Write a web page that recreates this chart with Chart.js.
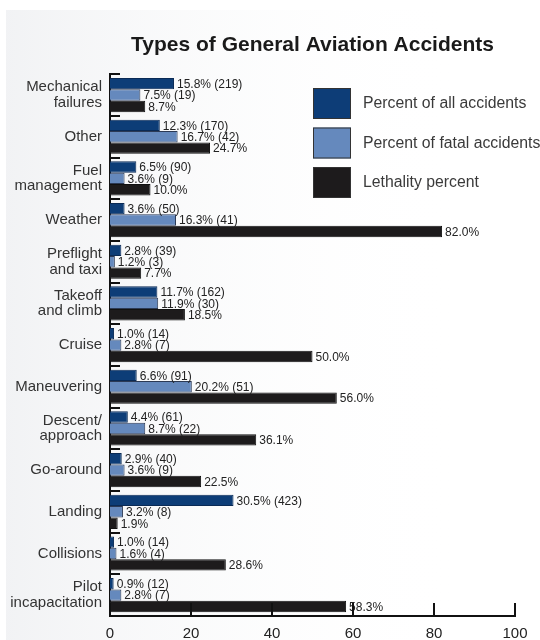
<!DOCTYPE html>
<html>
<head>
<meta charset="utf-8">
<script src="https://cdn.jsdelivr.net/npm/chart.js@4/dist/chart.umd.min.js"></script>
<style>
    html, body { margin: 0; padding: 0; background: #fff; }
    #accidentChart { display: block; }
</style>
</head>
<body>
<canvas id="accidentChart" width="540" height="640"></canvas>
<script>
// カテゴリ
const categories = [
    ['Mechanical', 'failures'],
    'Other',
    ['Fuel', 'management'],
    'Weather',
    ['Preflight', 'and taxi'],
    ['Takeoff', 'and climb'],
    'Cruise',
    'Maneuvering',
    ['Descent/', 'approach'],
    'Go-around',
    'Landing',
    'Collisions',
    ['Pilot', 'incapacitation']
];
// 全事故に対する割合
const allPercent = [15.8, 12.3, 6.5, 3.6, 2.8, 11.7, 1.0, 6.6, 4.4, 2.9, 30.5, 1.0, 0.9];
const allCount = [219, 170, 90, 50, 39, 162, 14, 91, 61, 40, 423, 14, 12];
// 死亡事故に対する割合
const fatalPercent = [7.5, 16.7, 3.6, 16.3, 1.2, 11.9, 2.8, 20.2, 8.7, 3.6, 3.2, 1.6, 2.8];
const fatalCount = [19, 42, 9, 41, 3, 30, 7, 51, 22, 9, 8, 4, 7];
// 致死率
const lethality = [8.7, 24.7, 10.0, 82.0, 7.7, 18.5, 50.0, 56.0, 36.1, 22.5, 1.9, 28.6, 58.3];
// 目盛り
const xTicks = [0, 20, 40, 60, 80, 100];

const seriesNames = ['Percent of all accidents', 'Percent of fatal accidents', 'Lethality percent'];
const seriesCounts = [allCount, fatalCount, null];

/**
 * 背景
 */
const backgroundPlugin = {
    id: 'background',
    beforeDraw(chart) {
        const ctx = chart.ctx;
        ctx.save();
        ctx.fillStyle = '#ffffff';
        ctx.fillRect(0, 0, chart.width, chart.height);
        const g = ctx.createLinearGradient(0, 0, 460, 0);
        g.addColorStop(0, 'rgba(241,242,244,1)');
        g.addColorStop(1, 'rgba(255,255,255,0)');
        ctx.fillStyle = g;
        ctx.fillRect(6, 10, chart.width - 6, chart.height - 10);
        ctx.restore();
    }
};

/**
 * 軸の目盛り線（内向き）
 */
const axisTickPlugin = {
    id: 'axisTicks',
    afterDraw(chart) {
        const ctx = chart.ctx;
        const x = chart.scales.x;
        const y = chart.scales.y;
        const area = chart.chartArea;
        ctx.save();
        ctx.strokeStyle = '#111';
        ctx.lineWidth = 2;
        // x軸
        xTicks.forEach(v => {
            const px = Math.round(x.getPixelForValue(v));
            ctx.beginPath();
            ctx.moveTo(px, area.bottom);
            ctx.lineTo(px, area.bottom - 13);
            ctx.stroke();
        });
        // カテゴリ境界
        const step = (area.bottom - area.top) / categories.length;
        categories.forEach((c, i) => {
            const py = Math.round(y.getPixelForValue(i) - step / 2);
            ctx.beginPath();
            ctx.moveTo(area.left, py);
            ctx.lineTo(area.left + 10, py);
            ctx.stroke();
        });
        ctx.restore();
    }
};

/**
 * 値ラベル
 */
const valueLabelPlugin = {
    id: 'valueLabels',
    afterDatasetsDraw(chart) {
        const ctx = chart.ctx;
        ctx.save();
        ctx.font = '12px "Liberation Sans", Arial, sans-serif';
        ctx.fillStyle = '#222';
        ctx.textBaseline = 'middle';
        ctx.textAlign = 'left';
        chart.data.datasets.forEach((ds, di) => {
            const meta = chart.getDatasetMeta(di);
            meta.data.forEach((bar, i) => {
                let text = ds.data[i].toFixed(1) + '%';
                if (seriesCounts[di]) {
                    text += ' (' + seriesCounts[di][i] + ')';
                }
                ctx.fillText(text, bar.x + 3, bar.y + 1);
            });
        });
        ctx.restore();
    }
};

/**
 * 凡例
 */
const legendPlugin = {
    id: 'boxLegend',
    afterDraw(chart) {
        const ctx = chart.ctx;
        ctx.save();
        ctx.font = '15.8px "Liberation Sans", Arial, sans-serif';
        ctx.textBaseline = 'middle';
        chart.data.datasets.forEach((ds, i) => {
            const top = 88 + i * 39.5;
            ctx.fillStyle = ds.backgroundColor;
            ctx.fillRect(313, top, 38, 31);
            ctx.strokeStyle = '#333';
            ctx.lineWidth = 1;
            ctx.strokeRect(313.5, top + 0.5, 37, 30);
            ctx.fillStyle = '#3a3a3a';
            ctx.fillText(ds.label, 363, top + 16);
        });
        ctx.restore();
    }
};

const chartObj = {};
chartObj.type = 'bar';
chartObj.data = {};
chartObj.data.labels = categories;
chartObj.data.datasets = [
    { label: seriesNames[0], data: allPercent, backgroundColor: '#0d3d77', borderColor: '#0a2a55', borderWidth: 1 },
    { label: seriesNames[1], data: fatalPercent, backgroundColor: '#6589bd', borderColor: '#2c3a55', borderWidth: 1 },
    { label: seriesNames[2], data: lethality, backgroundColor: '#1d1b1c', borderColor: '#111', borderWidth: 1 }
];
chartObj.options = {
    indexAxis: 'y',
    responsive: false,
    animation: false,
    devicePixelRatio: 1,
    layout: { padding: { left: 0, right: 25, top: 0, bottom: 0 } },
    datasets: { bar: { categoryPercentage: 0.82, barPercentage: 1.0 } },
    scales: {
        x: {
            min: 0,
            max: 100,
            afterBuildTicks(scale) {
                scale.ticks = xTicks.map(v => ({ value: v }));
            },
            afterFit(scale) { scale.height = 24; },
            grid: { display: false, drawTicks: false },
            border: { display: true, color: '#111', width: 2 },
            ticks: {
                padding: 9,
                color: '#222',
                font: { family: '"Liberation Sans", Arial, sans-serif', size: 15 }
            }
        },
        y: {
            afterFit(scale) { scale.width = 110; },
            grid: { display: false, drawTicks: false },
            border: { display: true, color: '#111', width: 2 },
            ticks: {
                padding: 8,
                color: '#333',
                font: { family: '"Liberation Sans", Arial, sans-serif', size: 15, lineHeight: 1.05 }
            }
        }
    },
    plugins: {
        legend: { display: false },
        tooltip: { enabled: false },
        title: {
            display: true,
            fullSize: false,
            text: 'Types of General Aviation Accidents',
            color: '#1a1a1a',
            font: { family: '"Liberation Sans", Arial, sans-serif', size: 21, weight: 'bold', lineHeight: 1.2 },
            padding: { top: 33, bottom: 16 }
        }
    }
};
chartObj.plugins = [backgroundPlugin, axisTickPlugin, valueLabelPlugin, legendPlugin];

// グラフを生成
const chart = new Chart(document.getElementById('accidentChart'), chartObj);
</script>
</body>
</html>
